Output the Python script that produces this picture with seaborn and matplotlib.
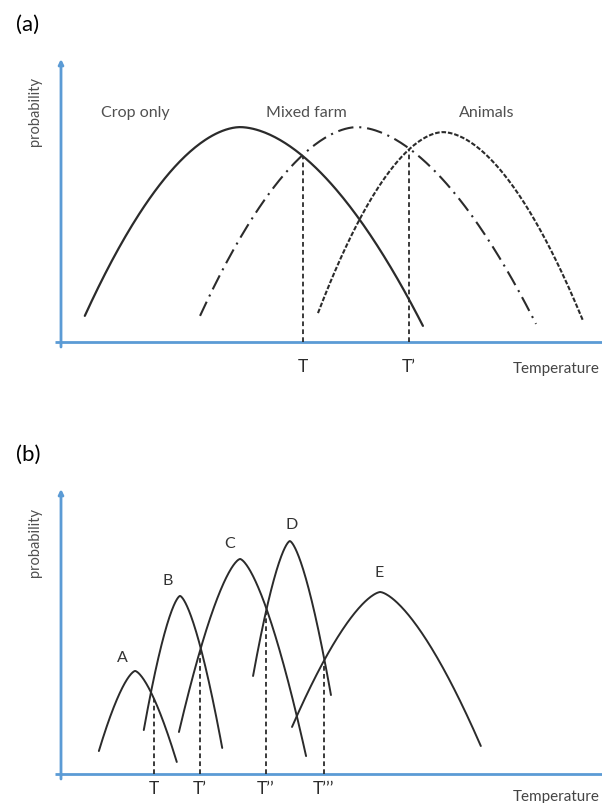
import numpy as np
import pandas as pd
import matplotlib
matplotlib.use("Agg")
import matplotlib.pyplot as plt
import seaborn as sns

# ---------------- data ----------------
# panel (a): three farm types, each curve given by start / peak / end anchor points
a_names = ["Crop only", "Mixed farm", "Animals"]
a_start_x = [4.4, 25.7, 47.5]
a_start_y = [0.094, 0.094, 0.104]
a_peak_x = [33.1, 54.7, 70.6]
a_peak_y = [0.773, 0.773, 0.755]
a_end_x = [66.9, 87.8, 96.5]
a_end_y = [0.058, 0.065, 0.076]
a_thresholds = [44.7, 64.3]
a_threshold_labels = ["T", "T\u2019"]

# panel (b): five crop types A..E
b_names = ["A", "B", "C", "D", "E"]
b_start_x = [7.0, 15.3, 21.8, 35.5, 42.7]
b_start_y = [0.082, 0.157, 0.150, 0.350, 0.168]
b_peak_x = [13.7, 22.0, 33.1, 42.3, 59.0]
b_peak_y = [0.368, 0.636, 0.768, 0.832, 0.650]
b_end_x = [21.4, 29.8, 45.3, 49.9, 77.6]
b_end_y = [0.043, 0.093, 0.064, 0.282, 0.100]
b_thresholds = [17.2, 25.7, 37.9, 48.6]
b_threshold_labels = ["T", "T\u2019", "T\u2019\u2019", "T\u2019\u2019\u2019"]

# ---------------- style ----------------
W, H = 602, 804
AXIS_BLUE = "#5B9BD5"
INK = "#2b2b2b"
GREY = "#505050"

sns.set_theme(style="white")
plt.rcParams["font.family"] = ["Lato", "DejaVu Sans"]

fig = plt.figure(figsize=(W / 100, H / 100), dpi=100)


def curve(xs, ys, xp, yp, xe, ye, p, n=200):
    x = np.linspace(xs, xe, n)
    y = np.where(
        x <= xp,
        yp - (yp - ys) * np.clip((xp - x) / (xp - xs), 0, 1) ** p,
        yp - (yp - ye) * np.clip((x - xp) / (xe - xp), 0, 1) ** p,
    )
    return x, y


def value_at(t, xs, ys, xp, yp, xe, ye, p):
    if t <= xp:
        return yp - (yp - ys) * ((xp - t) / (xp - xs)) ** p
    return yp - (yp - ye) * ((t - xp) / (xe - xp)) ** p


def make_axes(top_px, bottom_px):
    l = 61 / W
    b = (H - bottom_px) / H
    h = (bottom_px - top_px) / H
    ax = fig.add_axes([l, b, 1 - l, h])
    ax.set_xlim(0, 100)
    ax.set_ylim(0, 1)
    ax.axis("off")
    return ax


def draw_axes_lines(ax, top_px, bottom_px):
    hpx = bottom_px - top_px
    ax.plot([-1.1, 100], [0, 0], color=AXIS_BLUE, lw=2.0, clip_on=False,
            solid_capstyle="butt", zorder=1)
    ax.annotate("", xy=(0, 1 + 5 / hpx), xytext=(0, -5 / hpx),
                xycoords="data", textcoords="data",
                arrowprops=dict(arrowstyle="-|>", color=AXIS_BLUE, lw=2.0,
                                mutation_scale=7, shrinkA=0, shrinkB=0),
                annotation_clip=False, zorder=1)


def draw_panel(ax, names, sx, sy, px, py, ex, ey, p, styles, lws,
               thresholds, tlabels, tl_y):
    frames = []
    for i, nm in enumerate(names):
        x, y = curve(sx[i], sy[i], px[i], py[i], ex[i], ey[i], p)
        frames.append(pd.DataFrame({"T": x, "P": y, "name": nm}))
    df = pd.concat(frames, ignore_index=True)
    for i, nm in enumerate(names):
        sub = df[df["name"] == nm]
        line_kw = {}
        if styles[i] is not None:
            line_kw["dashes"] = styles[i]
        sns.lineplot(data=sub, x="T", y="P", ax=ax, sort=False, estimator=None,
                     color=INK, lw=lws[i], legend=False, clip_on=False,
                     **line_kw)
    for k, t in enumerate(thresholds):
        v1 = value_at(t, sx[k], sy[k], px[k], py[k], ex[k], ey[k], p)
        v2 = value_at(t, sx[k + 1], sy[k + 1], px[k + 1], py[k + 1],
                      ex[k + 1], ey[k + 1], p)
        top = min(v1, v2)
        ax.plot([t, t], [0, top], color=INK, lw=1.3, dashes=(2.6, 1.8),
                clip_on=False)
        ax.text(t, tl_y, tlabels[k], ha="center", va="center", fontsize=12.5,
                color=INK)


# ---------------- panel (a) ----------------
A_TOP, A_BOT = 65, 343
axa = make_axes(A_TOP, A_BOT)
draw_axes_lines(axa, A_TOP, A_BOT)
draw_panel(axa, a_names, a_start_x, a_start_y, a_peak_x, a_peak_y,
           a_end_x, a_end_y, 1.8,
           [None, (7.5, 2.8, 1.0, 2.8), (2.2, 0.9)], [1.6, 1.5, 1.5],
           a_thresholds, a_threshold_labels, -0.086)
for nm, x in zip(a_names, [13.7, 45.3, 78.7]):
    axa.text(x, 0.827, nm, ha="center", va="center", fontsize=11.5, color=GREY)
axa.text(99.6, -0.094, "Temperature", ha="right", va="center", fontsize=11,
         color="#444444")
axa.text(-4.8, 0.831, "probability", ha="center", va="center", rotation=90,
         fontsize=10.5, color=GREY)
axa.text(-6.1, 1.144, "(a)", ha="center", va="center", fontsize=16,
         color="black")

# ---------------- panel (b) ----------------
B_TOP, B_BOT = 495, 775
axb = make_axes(B_TOP, B_BOT)
draw_axes_lines(axb, B_TOP, B_BOT)
draw_panel(axb, b_names, b_start_x, b_start_y, b_peak_x, b_peak_y,
           b_end_x, b_end_y, 1.5,
           [None] * 5, [1.4] * 5,
           b_thresholds, b_threshold_labels, -0.05)
for nm, x, y in zip(b_names, [11.3, 19.8, 31.1, 42.7, 58.8],
                    [0.418, 0.693, 0.825, 0.893, 0.721]):
    axb.text(x, y, nm, ha="center", va="center", fontsize=11.5, color="#333333")
axb.text(99.6, -0.079, "Temperature", ha="right", va="center", fontsize=11,
         color="#444444")
axb.text(-4.8, 0.832, "probability", ha="center", va="center", rotation=90,
         fontsize=10.5, color=GREY)
axb.text(-6.1, 1.143, "(b)", ha="center", va="center", fontsize=16,
         color="black")

fig.savefig("out.png", dpi=100)
